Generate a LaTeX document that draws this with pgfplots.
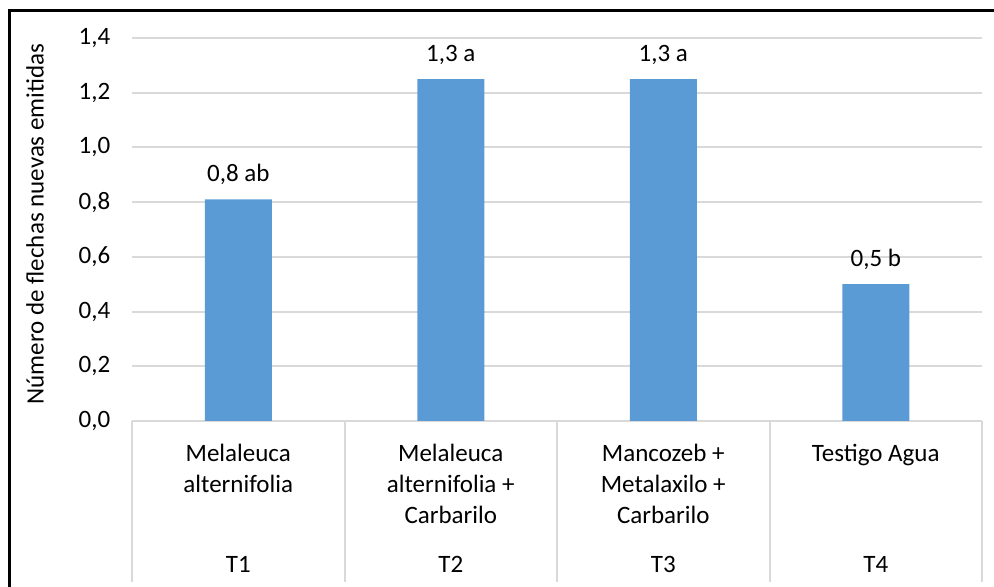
\documentclass[border=0pt]{standalone}
\usepackage{pgfplots}
\pgfplotsset{compat=1.18}
\usepackage{pgfplotstable}
\usepackage{fontspec}
\setmainfont{Carlito}
\definecolor{barblue}{HTML}{5B9BD5}
\definecolor{gridgray}{HTML}{D9D9D9}
\pgfplotstableread[col sep=semicolon]{
x;y;label
0;0.81;0,8 ab
1;1.25;1,3 a
2;1.25;1,3 a
3;0.50;0,5 b
}\datatable
\begin{document}
\fontsize{12.5}{15.5}\selectfont
\begin{tikzpicture}
\useasboundingbox (0,0) rectangle (497pt,293.5pt);
\draw[line width=1.5pt] (4.5pt,0) -- (4.5pt,288pt) -- (497pt,288pt);
\node[rotate=90, anchor=center] at (17.5pt,181.5pt) {Número de flechas nuevas emitidas};
\begin{axis}[
  at={(66pt,83pt)}, anchor=south west,
  scale only axis,
  width=425pt, height=191.5pt,
  xmin=-0.5, xmax=3.5, ymin=0, ymax=1.4,
  ytick={0,0.2,...,1.4},
  xtick=\empty,
  ymajorgrids,
  grid style={gridgray, line width=1pt},
  axis line style={draw=none},
  major tick length=0pt,
  yticklabel style={/pgf/number format/fixed, /pgf/number format/fixed zerofill, /pgf/number format/precision=1, /pgf/number format/use comma, /pgf/number format/assume math mode=true, xshift=-6.5pt},
  tick label style={font=\fontsize{12.5}{15.5}\selectfont, text=black},
  ytick style={draw=none},
  clip=false,
  ybar, bar width=33.5pt,
  nodes near coords,
  point meta=explicit symbolic,
  every node near coord/.append style={anchor=base, yshift=8.75pt, font=\fontsize{12.5}{15.5}\selectfont, text=black},
]
\addplot[fill=barblue, draw=none] table[x=x, y=y, meta=label] {\datatable};
\draw[gridgray, line width=1pt] (axis cs:-0.5,0) -- ([yshift=-80.5pt]axis cs:-0.5,0);
\draw[gridgray, line width=1pt] (axis cs:0.5,0) -- ([yshift=-80.5pt]axis cs:0.5,0);
\draw[gridgray, line width=1pt] (axis cs:1.5,0) -- ([yshift=-80.5pt]axis cs:1.5,0);
\draw[gridgray, line width=1pt] (axis cs:2.5,0) -- ([yshift=-80.5pt]axis cs:2.5,0);
\draw[gridgray, line width=1pt] (axis cs:3.5,0) -- ([yshift=-80.5pt]axis cs:3.5,0);
\node[anchor=base] at ([yshift=-20.5pt]axis cs:0,0) {Melaleuca};
\node[anchor=base] at ([yshift=-36pt]axis cs:0,0) {alternifolia};
\node[anchor=base] at ([yshift=-20.5pt]axis cs:1,0) {Melaleuca};
\node[anchor=base] at ([yshift=-36pt]axis cs:1,0) {alternifolia +};
\node[anchor=base] at ([yshift=-51.5pt]axis cs:1,0) {Carbarilo};
\node[anchor=base] at ([yshift=-20.5pt]axis cs:2,0) {Mancozeb +};
\node[anchor=base] at ([yshift=-36pt]axis cs:2,0) {Metalaxilo +};
\node[anchor=base] at ([yshift=-51.5pt]axis cs:2,0) {Carbarilo};
\node[anchor=base] at ([yshift=-20.5pt]axis cs:3,0) {Testigo Agua};
\node[anchor=base] at ([yshift=-76pt]axis cs:0,0) {T1};
\node[anchor=base] at ([yshift=-76pt]axis cs:1,0) {T2};
\node[anchor=base] at ([yshift=-76pt]axis cs:2,0) {T3};
\node[anchor=base] at ([yshift=-76pt]axis cs:3,0) {T4};
\end{axis}
\end{tikzpicture}
\end{document}
